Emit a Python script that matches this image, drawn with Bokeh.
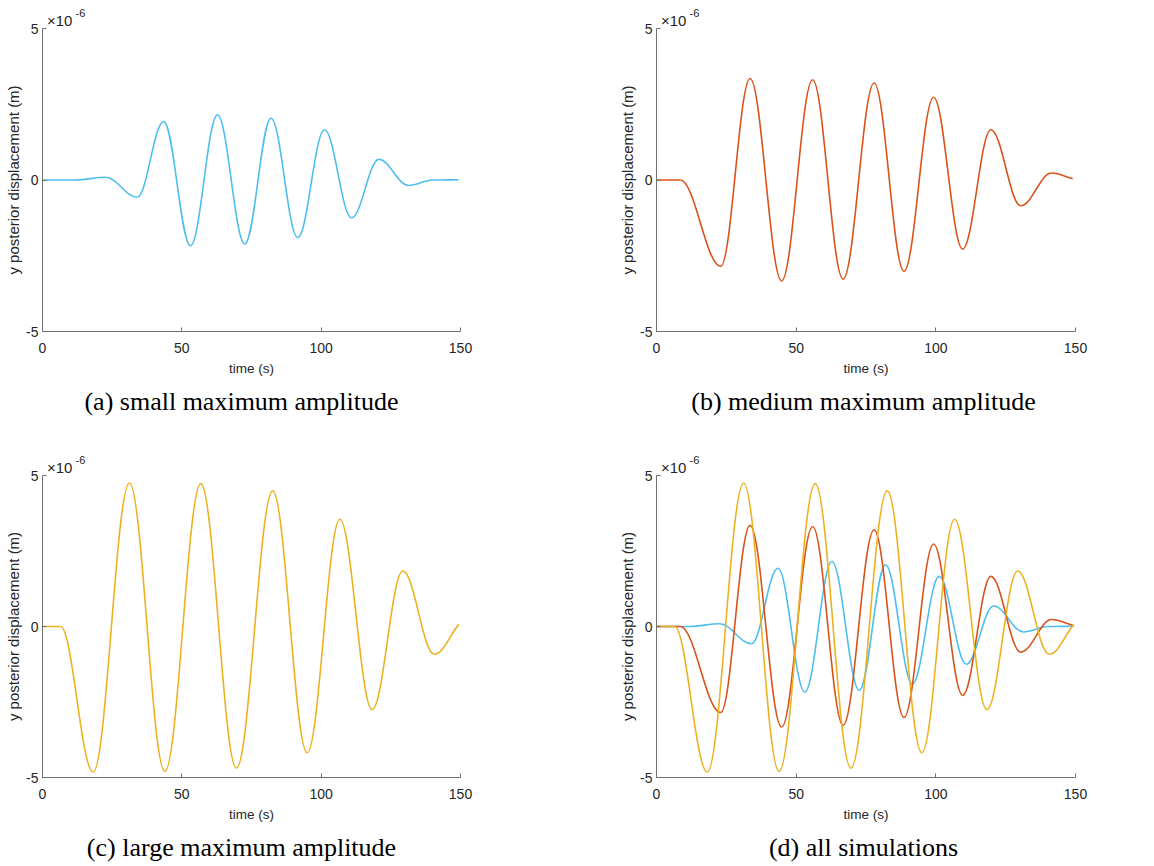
from bokeh.plotting import figure
from bokeh.models import Range1d, FixedTicker, Label, ColumnDataSource, Title
from bokeh.layouts import column, row
from bokeh.embed import file_html
from bokeh.resources import INLINE

# Turning points: time (s) and y posterior displacement (x 1e-6 m)
small_t = [0.0, 12.0, 22.6, 34.0, 43.5, 53.1, 62.8, 72.6, 82.0, 91.6, 101.2, 110.9, 120.7, 131.4, 140.0, 149.3]
small_y = [0.0, 0.0, 0.09, -0.57, 1.93, -2.17, 2.15, -2.11, 2.04, -1.90, 1.66, -1.25, 0.68, -0.18, 0.0, 0.01]

medium_t = [0.0, 8.5, 23.0, 33.5, 44.8, 55.9, 66.8, 77.9, 88.6, 99.2, 109.6, 119.7, 130.4, 141.4, 149.0]
medium_y = [0.0, 0.0, -2.85, 3.35, -3.33, 3.31, -3.27, 3.20, -3.01, 2.73, -2.28, 1.66, -0.85, 0.23, 0.04]

large_t = [0.0, 6.5, 18.2, 31.2, 43.9, 56.8, 69.6, 82.6, 95.0, 106.7, 118.3, 129.3, 140.6, 149.4]
large_y = [0.0, 0.0, -4.82, 4.75, -4.80, 4.73, -4.69, 4.49, -4.18, 3.55, -2.75, 1.84, -0.92, 0.07]

x_ticks = [0, 50, 100, 150]
y_ticks = [-5, 0, 5]
y_tick_labels = ["-5", "0", "5"]
x_label = "time (s)"
y_label = "y posterior displacement (m)"
exp_base, exp_power = "\u00d710", "-6"
captions = ["(a) small maximum amplitude", "(b) medium maximum amplitude",
            "(c) large maximum amplitude", "(d) all simulations"]

BLUE, RED, YELLOW = "#4DBEEE", "#D95319", "#EDB120"
AXIS = "#707070"
TXT = "#262626"
SANS = "Liberation Sans"
SERIF = "Liberation Serif"
K = 0.364  # bezier handle fraction for smooth turning points


def bezier_source(t, y):
    x0, x1 = t[:-1], t[1:]
    y0, y1 = y[:-1], y[1:]
    cx0 = [a + K * (b - a) for a, b in zip(x0, x1)]
    cx1 = [b - K * (b - a) for a, b in zip(x0, x1)]
    cy0 = list(y0)
    cy1 = list(y1)
    # last point is not a turning point: keep the curve's slope there
    cy1[-1] = y1[-1] - 0.35 * (y1[-1] - y0[-1])
    return ColumnDataSource(dict(x0=x0, y0=y0, x1=x1, y1=y1,
                                 cx0=cx0, cy0=cy0, cx1=cx1, cy1=cy1))


def make_panel(series, width, height, left, right, bottom):
    p = figure(width=width, height=height, output_backend="svg", toolbar_location=None,
               title=None, x_range=Range1d(0, 150), y_range=Range1d(-5, 5),
               min_border_left=left, min_border_right=right,
               min_border_top=28, min_border_bottom=bottom)
    p.outline_line_color = None
    p.grid.visible = False
    p.background_fill_color = "white"
    p.border_fill_color = "white"
    for t, y, c in series:
        p.bezier(x0="x0", y0="y0", x1="x1", y1="y1", cx0="cx0", cy0="cy0",
                 cx1="cx1", cy1="cy1", source=bezier_source(t, y),
                 line_color=c, line_width=1.6)
    p.xaxis.ticker = FixedTicker(ticks=x_ticks)
    p.yaxis.ticker = FixedTicker(ticks=y_ticks)
    p.yaxis.major_label_overrides = {v: s for v, s in zip(y_ticks, y_tick_labels)}
    p.xaxis.axis_label = x_label
    p.yaxis.axis_label = y_label
    for ax in (p.xaxis[0], p.yaxis[0]):
        ax.axis_line_color = AXIS
        ax.axis_line_width = 1
        ax.major_tick_line_color = AXIS
        ax.major_tick_in = 4
        ax.major_tick_out = 0
        ax.minor_tick_line_color = None
        ax.major_label_text_font = SANS
        ax.major_label_text_font_size = "14px"
        ax.major_label_text_color = TXT
        ax.axis_label_text_font = SANS
        ax.axis_label_text_font_style = "normal"
        ax.axis_label_text_color = TXT
    p.xaxis.axis_label_text_font_size = "13.5px"
    p.yaxis.axis_label_text_font_size = "15px"
    p.xaxis.major_label_standoff = 11
    p.xaxis.axis_label_standoff = 5
    p.yaxis.major_label_standoff = 4
    p.yaxis.axis_label_standoff = 1

    t1 = Title(text=exp_base, align="left", offset=4.5, standoff=0,
               text_font=SANS, text_font_size="15px", text_font_style="normal",
               text_color=TXT, vertical_align="bottom")
    t2 = Title(text=exp_power, align="left", offset=33, standoff=-14,
               text_font=SANS, text_font_size="11px", text_font_style="normal",
               text_color=TXT, vertical_align="bottom")
    p.add_layout(t1, "above")
    p.add_layout(t2, "above")
    return p


def make_caption(text, width, height, cx, cy_from_top):
    c = figure(width=width, height=height, output_backend="svg", toolbar_location=None,
               title=None, x_range=Range1d(0, 1), y_range=Range1d(0, 1),
               x_axis_type=None, y_axis_type=None,
               min_border_left=0, min_border_right=0, min_border_top=0, min_border_bottom=0)
    c.outline_line_color = None
    c.grid.visible = False
    c.add_layout(Label(x=cx, y=height - cy_from_top, x_units="screen", y_units="screen",
                       text=text, text_font=SERIF, text_font_size="26px",
                       text_color="#000000", text_align="center", text_baseline="middle"))
    return c


S = (small_t, small_y, BLUE)
M = (medium_t, medium_y, RED)
L = (large_t, large_y, YELLOW)

pa = make_panel([S], 577, 384, 42, 117, 53)
pb = make_panel([M], 576, 384, 79, 78, 53)
pc = make_panel([L], 577, 383, 42, 117, 53)
pd = make_panel([S, M, L], 576, 383, 79, 78, 53)

ca = make_caption(captions[0], 577, 63, 241, 17)
cb = make_caption(captions[1], 576, 63, 286, 17)
cc = make_caption(captions[2], 577, 35, 241, 17)
cd = make_caption(captions[3], 576, 35, 286, 17)

layout = column(row(pa, pb), row(ca, cb), row(pc, pd), row(cc, cd))

with open("out.html", "w") as f:
    f.write(file_html(layout, INLINE))
